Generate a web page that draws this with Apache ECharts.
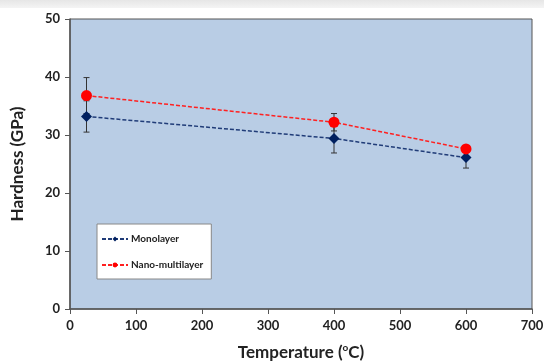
<!DOCTYPE html>
<html><head><meta charset="utf-8">
<script src="https://cdn.jsdelivr.net/npm/echarts@6/dist/echarts.min.js"></script>
<style>html,body{margin:0;padding:0;background:#fff}#c{width:544px;height:362px}</style>
</head><body><div id="c"></div>
<script>
const temps = [25, 400, 600];
const monolayer = [33.2, 29.4, 26.1];
const monoErr = [2.7, 2.5, 1.8];
const nano = [36.8, 32.2, 27.6];
const nanoErr = [3.1, 1.5, 0.4];
const xTicks = [0, 100, 200, 300, 400, 500, 600, 700];
const yTicks = [0, 10, 20, 30, 40, 50];

const font = 'Lato, "Open Sans", sans-serif';
function errData(vals, errs) { return temps.map((t, i) => [t, vals[i] - errs[i], vals[i] + errs[i]]); }
function errRender(params, api) {
  const x = api.value(0);
  const lo = api.coord([x, api.value(1)]);
  const hi = api.coord([x, api.value(2)]);
  const w = 3;
  const st = { stroke: '#333', lineWidth: 1 };
  return { type: 'group', children: [
    { type: 'line', shape: { x1: lo[0], y1: lo[1], x2: hi[0], y2: hi[1] }, style: st },
    { type: 'line', shape: { x1: lo[0] - w, y1: lo[1], x2: lo[0] + w, y2: lo[1] }, style: st },
    { type: 'line', shape: { x1: hi[0] - w, y1: hi[1], x2: hi[0] + w, y2: hi[1] }, style: st }
  ]};
}
const chart = echarts.init(document.getElementById('c'));
chart.setOption({
  animation: false,
  graphic: [{ type: 'rect', shape: { x: 0, y: 0, width: 544, height: 8 },
    style: { fill: new echarts.graphic.LinearGradient(0, 0, 0, 1, [{ offset: 0, color: '#e6e6e6' }, { offset: 1, color: '#f4f4f4' }]) } }],
  grid: { left: 70, right: 12, top: 19, bottom: 53, outerBoundsMode: 'none', containLabel: false,
    show: true, backgroundColor: '#b9cde5', borderColor: '#555', borderWidth: 1 },
  xAxis: { type: 'value', min: 0, max: 700, interval: 100,
    name: 'Temperature ({s|o}C)', nameLocation: 'middle', nameGap: 34,
    nameTextStyle: { fontFamily: font, fontWeight: 'bold', fontSize: 17, color: '#222',
      rich: { s: { fontSize: 10, fontWeight: 'bold', verticalAlign: 'top', padding: [0,0,9,0], fontFamily: font, color: '#222' } } },
    axisLine: { lineStyle: { color: '#555', width: 1.5 } },
    axisTick: { show: true, length: 5, lineStyle: { color: '#555' } },
    axisLabel: { fontFamily: font, fontWeight: 'bold', fontSize: 13, color: '#222', margin: 10,
      formatter: v => xTicks.includes(v) ? String(v) : '' },
    splitLine: { show: false } },
  yAxis: { type: 'value', min: 0, max: 50, interval: 10,
    name: 'Hardness (GPa)', nameLocation: 'middle', nameGap: 44,
    nameTextStyle: { fontFamily: font, fontWeight: 'bold', fontSize: 17, color: '#222' },
    axisLine: { show: true, lineStyle: { color: '#555', width: 1.5 } },
    axisTick: { show: true, length: 5, lineStyle: { color: '#555' } },
    axisLabel: { fontFamily: font, fontWeight: 'bold', fontSize: 13, color: '#222', margin: 10,
      formatter: v => yTicks.includes(v) ? String(v) : '' },
    splitLine: { show: false } },
  legend: { left: 97, top: 224, orient: 'vertical', itemGap: 16, itemWidth: 26, itemHeight: 6,
    backgroundColor: '#fff', borderColor: '#888', borderWidth: 1, padding: [10, 8, 9, 4],
    textStyle: { fontFamily: font, fontSize: 10, fontWeight: 'bold', color: '#222', padding: [0, 0, 0, -2] },
    data: ['Monolayer', 'Nano-multilayer'] },
  series: [
    { type: 'custom', renderItem: errRender, data: errData(monolayer, monoErr), z: 1, silent: true },
    { type: 'custom', renderItem: errRender, data: errData(nano, nanoErr), z: 1, silent: true },
    { name: 'Monolayer', type: 'line', data: temps.map((t, i) => [t, monolayer[i]]), symbol: 'diamond', symbolSize: 11,
      itemStyle: { color: '#002060' }, lineStyle: { color: '#203c78', type: [4, 2], width: 1.5 }, z: 3 },
    { name: 'Nano-multilayer', type: 'line', data: temps.map((t, i) => [t, nano[i]]), symbol: 'circle', symbolSize: 11,
      itemStyle: { color: '#ff0000' }, lineStyle: { color: '#ff2020', type: [4, 2], width: 1.5 }, z: 4 }
  ]
});
</script></body></html>
